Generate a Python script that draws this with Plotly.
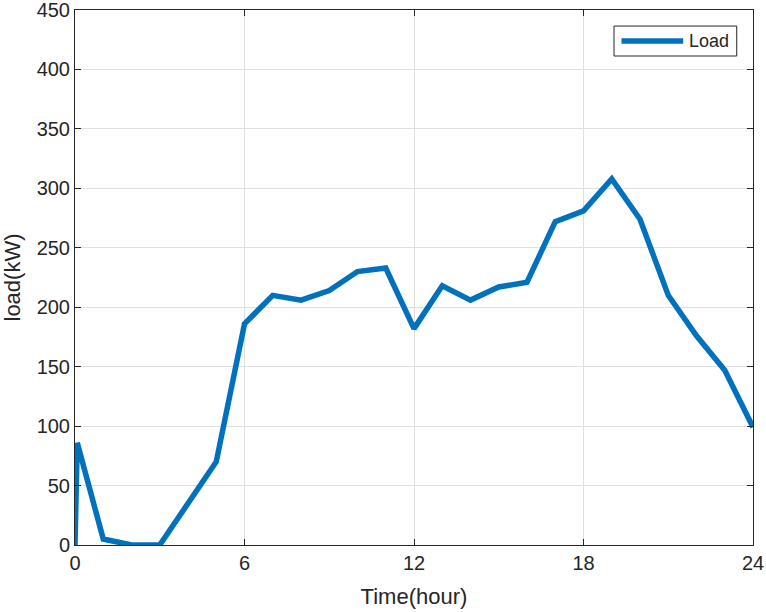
import plotly.graph_objects as go

time_hour = [0, 0.08, 1, 2, 3, 4, 5, 6, 7, 8, 9, 10, 11, 12, 13, 14, 15, 16, 17, 18, 19, 20, 21, 22, 23, 24]
load_kw = [0, 86, 5, 0, 0, 35, 70, 186, 210, 206, 214, 230, 233, 182, 218, 206, 217, 221, 272, 281, 308, 274, 210, 176, 147, 99]
x_ticks = [0, 6, 12, 18, 24]
y_ticks = [0, 50, 100, 150, 200, 250, 300, 350, 400, 450]
series_name = "Load"

FONT = "Liberation Sans, Arial, sans-serif"
BLUE = "#0072BD"
DARK = "#262626"

fig = go.Figure()
fig.add_trace(go.Scatter(x=time_hour, y=load_kw, mode="lines", name=series_name,
                         line=dict(color=BLUE, width=5.5), showlegend=False))

axis_common = dict(showline=True, linecolor=DARK, linewidth=1, mirror="ticks",
                   ticks="inside", ticklen=6, tickcolor=DARK, automargin=False,
                   ticklabeloverflow="allow",
                   showgrid=True, gridcolor="#DFDFDF", gridwidth=1, zeroline=False,
                   tickfont=dict(family=FONT, size=20, color=DARK),
                   title_font=dict(family=FONT, size=22, color=DARK))

fig.update_xaxes(range=[0, 24], tickvals=x_ticks, title_text="Time(hour)", title_standoff=15, **axis_common)
fig.update_yaxes(range=[0, 450], tickvals=y_ticks, title_text="load(kW)", title_standoff=10, **axis_common)

# legend box (MATLAB style)
fig.add_shape(type="rect", xref="paper", yref="paper", x0=0.795, x1=0.976, y0=0.914, y1=0.970,
              line=dict(color=DARK, width=1), fillcolor="white", layer="above")
fig.add_shape(type="line", xref="paper", yref="paper", x0=0.806, x1=0.897, y0=0.942, y1=0.942,
              line=dict(color=BLUE, width=5.5), layer="above")
fig.add_annotation(xref="paper", yref="paper", x=0.902, y=0.942, text=series_name, showarrow=False,
                   xanchor="left", yanchor="middle", font=dict(family=FONT, size=18, color=DARK))

fig.update_layout(
    width=766, height=612,
    margin=dict(l=75, r=13, t=10, b=67),
    plot_bgcolor="white", paper_bgcolor="white",
    showlegend=False,
)

fig.write_html("out.html", config={"displayModeBar": False},
               post_script="document.body.style.margin='0';")
